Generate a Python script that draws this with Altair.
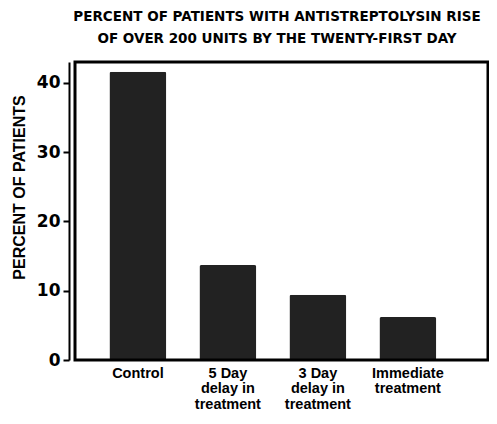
import altair as alt
import pandas as pd

categories = ["Control", "5 Day\ndelay in\ntreatment", "3 Day\ndelay in\ntreatment", "Immediate\ntreatment"]
percent = [41.6, 13.7, 9.4, 6.2]
y_ticks = [0, 10, 20, 30, 40]

df = pd.DataFrame({"group": categories, "percent": percent})

W, H = 413, 298

bars = alt.Chart(df).mark_bar(color="#222222", cornerRadius=2).encode(
    x=alt.X("group:N", sort=None,
            scale=alt.Scale(paddingInner=0.367, paddingOuter=0.478, align=0.40),
            axis=alt.Axis(title=None, labelAngle=0, ticks=False, domain=False,
                          labelExpr="split(datum.label, '\\n')",
                          labelFont="Liberation Sans", labelFontWeight="bold",
                          labelFontSize=14.5, labelColor="black", labelLineHeight=15.5,
                          labelPadding=6, labelBaseline="top")),
    y=alt.Y("percent:Q",
            scale=alt.Scale(domain=[0, 43], nice=False),
            axis=alt.Axis(title="PERCENT OF PATIENTS", values=y_ticks, grid=False,
                          offset=6, domainColor="black", domainWidth=2,
                          tickColor="black", tickWidth=2, tickSize=6,
                          labelFont="DejaVu Sans", labelFontWeight="bold",
                          labelFontSize=17, labelColor="black", labelPadding=3,
                          titleFont="Liberation Sans", titleFontWeight="bold",
                          titleFontSize=16, titleColor="black",
                          titleX=-50, titleY=125, titleAngle=-90,
                          titleAlign="center", titleBaseline="middle")),
)

# plot-area frame (decoration)
frame = alt.Chart(pd.DataFrame({"f": [0]})).mark_rect(
    fill="white", fillOpacity=0, stroke="#000000", strokeWidth=3, strokeOpacity=1
).encode(
    x=alt.value(0), x2=alt.value(W), y=alt.value(0), y2=alt.value(H)
)

chart = alt.layer(bars, frame).properties(
    width=W, height=H,
    autosize=alt.AutoSizeParams(type="none"),
    padding={"left": 67, "top": 54, "right": 1, "bottom": 56},
    title=alt.Title(["PERCENT OF PATIENTS WITH ANTISTREPTOLYSIN RISE",
                     "OF OVER 200 UNITS BY THE TWENTY-FIRST DAY"],
                    font="DejaVu Sans", fontWeight="bold", fontSize=13.5,
                    color="black", lineHeight=22, anchor="middle", offset=15, dx=-4.5),
).configure(background="white").configure_view(stroke="black", strokeWidth=2)

chart.save("out.html", embed_options={"renderer": "svg", "actions": False})
